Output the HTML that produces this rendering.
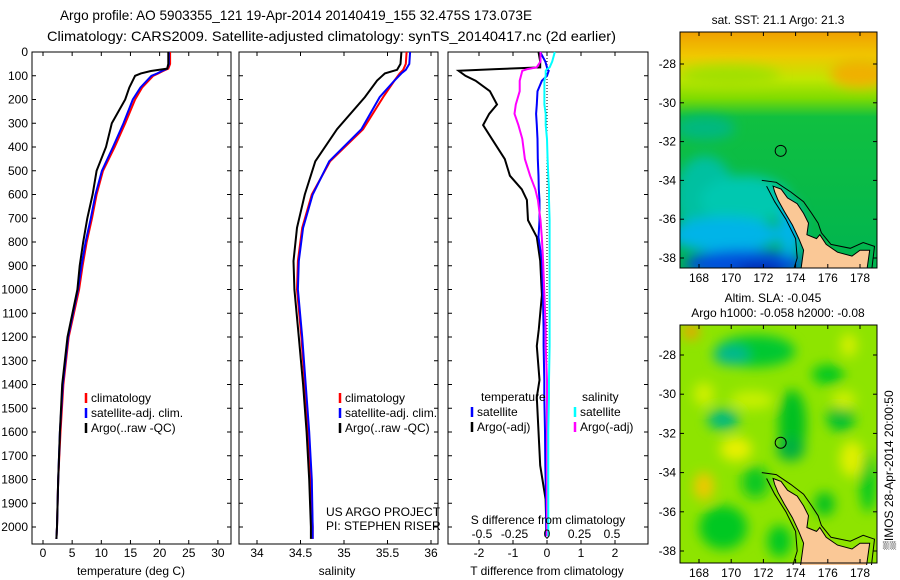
<!DOCTYPE html>
<html><head><meta charset="utf-8">
<style>
html,body{margin:0;padding:0;background:#fff;}
svg{display:block;font-family:"Liberation Sans",sans-serif;}
</style></head>
<body>
<svg id="fig" width="900" height="580" viewBox="0 0 900 580" xmlns="http://www.w3.org/2000/svg">
<defs>
<filter id="blur6" x="-20%" y="-20%" width="140%" height="140%"><feGaussianBlur stdDeviation="6"/></filter>
<filter id="blur3" x="-20%" y="-20%" width="140%" height="140%"><feGaussianBlur stdDeviation="3"/></filter>
<clipPath id="clipTop"><rect x="680" y="32" width="197" height="236"/></clipPath>
<clipPath id="clipBot"><rect x="680" y="325" width="197" height="240"/></clipPath>
<linearGradient id="sstGrad" x1="0" y1="0" x2="0" y2="1">
<stop offset="0" stop-color="#f0a000"/><stop offset="0.1" stop-color="#f0c800"/>
<stop offset="0.2" stop-color="#c0e600"/><stop offset="0.28" stop-color="#80dc00"/>
<stop offset="0.36" stop-color="#10c040"/><stop offset="1" stop-color="#00b450"/>
</linearGradient>
</defs>
<text x="60" y="20" font-size="14" textLength="472" lengthAdjust="spacingAndGlyphs">Argo profile: AO 5903355_121 19-Apr-2014 20140419_155 32.475S 173.073E</text>
<text x="47" y="41" font-size="14" textLength="569" lengthAdjust="spacingAndGlyphs">Climatology: CARS2009. Satellite-adjusted climatology: synTS_20140417.nc (2d earlier)</text>
<g id="panels"></g>
<g id="maps"></g>
</svg>
<script>
// ---- Temperature profile data ----
const tDepth = [0,50,70,80,90,100,150,200,300,400,500,600,700,800,900,1000,1200,1400,1600,1800,2000,2050];
const tClim = [21.8,21.8,21.5,20.6,19.8,18.9,17.0,15.8,14.1,12.3,10.3,9.2,8.4,7.5,6.8,6.2,4.4,3.5,3.0,2.6,2.4,2.3];
const tSat  = [21.6,21.6,21.3,20.4,19.6,18.6,16.7,15.4,13.8,12.0,10.1,9.0,8.2,7.3,6.6,6.0,4.3,3.4,2.9,2.6,2.4,2.3];
const tArgo = [21.5,21.5,21.3,18.5,16.8,15.8,14.8,14.1,11.8,10.8,9.2,8.5,7.6,6.9,6.3,5.9,4.2,3.3,2.9,2.6,2.4,2.3];
// ---- Salinity profile data ----
const sDepth = [0,50,75,90,120,190,325,460,600,740,880,1000,1200,1400,1600,1800,2000,2050];
const sClim = [35.72,35.71,35.68,35.64,35.58,35.45,35.22,34.84,34.63,34.52,34.47,34.46,34.51,34.55,34.59,34.62,34.64,34.64];
const sSat  = [35.76,35.75,35.71,35.66,35.58,35.41,35.20,34.83,34.64,34.53,34.48,34.47,34.52,34.56,34.60,34.63,34.64,34.64];
const sArgo = [35.66,35.65,35.61,35.47,35.38,35.24,34.92,34.67,34.55,34.46,34.42,34.43,34.48,34.53,34.57,34.60,34.62,34.62];
// ---- Difference data ----
const dDepth = [0,40,65,72,79,100,121,165,221,260,308,366,451,521,578,623,708,779,879,1023,1167,1238,1381,1454,1597,1741,1883,1997,2040];
const dTArgo = [-0.25,-0.2,-0.2,-1.5,-2.6,-2.4,-2.1,-1.68,-1.47,-1.7,-1.88,-1.62,-1.24,-1.09,-0.74,-0.59,-0.56,-0.3,-0.2,-0.15,-0.24,-0.3,-0.22,-0.3,-0.25,-0.2,-0.04,-0.02,-0.02];
const dTSat  = [-0.2,-0.05,0.0,0.0,0.05,0.0,-0.15,-0.28,-0.3,-0.32,-0.3,-0.28,-0.27,-0.25,-0.24,-0.22,-0.22,-0.25,-0.15,-0.12,-0.1,-0.1,-0.08,-0.08,-0.06,-0.05,-0.03,-0.02,-0.02];
const dSArgo = [-0.05,-0.05,-0.08,-0.15,-0.19,-0.2,-0.21,-0.21,-0.24,-0.25,-0.22,-0.19,-0.17,-0.13,-0.09,-0.07,-0.05,-0.04,-0.03,-0.02,-0.01,-0.01,0,0,0,0,0,0,0];
const dSSat  = [0.06,0.04,0.02,0,-0.01,-0.01,-0.02,-0.02,-0.02,-0.01,-0.01,0,0.005,0.01,0.015,0.015,0.02,0.02,0.02,0.02,0.02,0.02,0.015,0.015,0.01,0.01,0.01,0.01,0.01];
// ---- Tick labels ----
const depthTicks = [0,100,200,300,400,500,600,700,800,900,1000,1100,1200,1300,1400,1500,1600,1700,1800,1900,2000];
const tempTicks = [0,5,10,15,20,25,30];
const salTicks = [34,34.5,35,35.5,36];
const dTTicks = [-2,-1,0,1,2];
const dSTicks = [-0.5,-0.25,0,0.25,0.5];
const dSTickLabels = ["-0.5","-0.25","0","0.25","0.5"];
const latTicks = [-28,-30,-32,-34,-36,-38];
const lonTicks = [168,170,172,174,176,178];

const NS = "http://www.w3.org/2000/svg";
const panels = document.getElementById('panels');
const maps = document.getElementById('maps');
function mk(tag, attrs, parent, text){
  const e = document.createElementNS(NS, tag);
  for (const k in attrs) e.setAttribute(k, attrs[k]);
  if (text !== undefined) e.textContent = text;
  (parent||panels).appendChild(e);
  return e;
}
const yTop = 52, yBot = 544;
const yD = d => 52 + d*0.2375;
const xT = v => 43 + v*5.83;
const xS = v => 257 + (v-34)*87;
const xDT = v => 547 + v*34;
const xDS = v => 547 + v*130;

function frame(x0,x1,name){
  const r = mk('rect',{x:x0,y:yTop,width:x1-x0,height:yBot-yTop,fill:'none',stroke:'#000','stroke-width':1});
  
  
  depthTicks.forEach(d=>{
    const y = yD(d);
    mk('line',{x1:x0,x2:x0+4,y1:y,y2:y,stroke:'#000'});
    mk('line',{x1:x1-4,x2:x1,y1:y,y2:y,stroke:'#000'});
  });
}
function xTicks(ticks, fx, labels, name, ly){
  ticks.forEach((v,i)=>{
    const x = fx(v);
    mk('line',{x1:x,x2:x,y1:yBot,y2:yBot-4,stroke:'#000'});
    mk('line',{x1:x,x2:x,y1:yTop,y2:yTop+4,stroke:'#000'});
    const t = mk('text',{x:x,y:ly,'font-size':12,'text-anchor':'middle'},panels,labels?labels[i]:String(v));
    
    
  });
}
function line(depths, vals, fx, color, name, w){
  const pts = depths.map((d,i)=>fx(vals[i]).toFixed(1)+','+yD(d).toFixed(1)).join(' ');
  const p = mk('polyline',{points:pts,fill:'none',stroke:color,'stroke-width':w||2,'stroke-linejoin':'miter'});
  
  
}
function legendEntry(x,y,color,label,name){
  mk('line',{x1:x,x2:x,y1:y-9,y2:y+1,stroke:color,'stroke-width':2.5});
  const t = mk('text',{x:x+5,y:y,'font-size':12},panels,label);
  
  
}

// Panel 1: temperature
frame(32,231,'temperature-panel');
depthTicks.forEach(d=>{
  const t = mk('text',{x:28,y:yD(d)+4,'font-size':12,'text-anchor':'end'},panels,String(d));
  
  
});
xTicks(tempTicks, xT, null, 'temperature-tick-label', 557);
line(tDepth,tClim,xT,'#ff0000','temp-climatology-line');
line(tDepth,tSat,xT,'#0000ff','temp-satellite-line');
line(tDepth,tArgo,xT,'#000000','temp-argo-line');
let at = mk('text',{x:131,y:575,'font-size':12,'text-anchor':'middle'},panels,'temperature (deg C)');


legendEntry(86,402,'#ff0000','climatology','legend-climatology');
legendEntry(86,417,'#0000ff','satellite-adj. clim.','legend-satellite-adj');
legendEntry(86,432,'#000000','Argo(..raw -QC)','legend-argo');

// Panel 2: salinity
frame(239,438,'salinity-panel');
xTicks(salTicks, xS, null, 'salinity-tick-label', 557);
line(sDepth,sClim,xS,'#ff0000','sal-climatology-line');
line(sDepth,sSat,xS,'#0000ff','sal-satellite-line');
line(sDepth,sArgo,xS,'#000000','sal-argo-line');
at = mk('text',{x:337,y:575,'font-size':12,'text-anchor':'middle'},panels,'salinity');


legendEntry(340,402,'#ff0000','climatology','legend-climatology-2');
legendEntry(340,417,'#0000ff','satellite-adj. clim.','legend-satellite-adj-2');
legendEntry(340,432,'#000000','Argo(..raw -QC)','legend-argo-2');
at = mk('text',{x:326,y:516,'font-size':12},panels,'US ARGO PROJECT');


at = mk('text',{x:326,y:530,'font-size':12},panels,'PI: STEPHEN RISER');



// Panel 3: differences
frame(448,648,'difference-panel');
xTicks(dTTicks, xDT, null, 'tdiff-tick-label', 557);
mk('line',{x1:547,x2:547,y1:yTop,y2:yBot,stroke:'#000','stroke-dasharray':'1,2'});
line(dDepth,dTArgo,xDT,'#000000','tdiff-argo-line');
line(dDepth,dTSat,xDT,'#0000ff','tdiff-satellite-line');
line(dDepth,dSArgo,xDS,'#ff00ff','sdiff-argo-line');
line(dDepth,dSSat,xDS,'#00ffff','sdiff-satellite-line');
dSTicks.forEach((v,i)=>{
  const t = mk('text',{x:xDS(v),y:538,'font-size':12,'text-anchor':'middle'},panels,dSTickLabels[i]);
  
  
});
at = mk('text',{x:548,y:524,'font-size':12,'text-anchor':'middle'},panels,'S difference from climatology');


at = mk('text',{x:547,y:575,'font-size':12,'text-anchor':'middle'},panels,'T difference from climatology');


at = mk('text',{x:481,y:401,'font-size':12},panels,'temperature');


at = mk('text',{x:582,y:401,'font-size':12},panels,'salinity');


legendEntry(472,416,'#0000ff','satellite','legend-t-satellite');
legendEntry(472,431,'#000000','Argo(-adj)','legend-t-argo');
legendEntry(575,416,'#00ffff','satellite','legend-s-satellite');
legendEntry(575,431,'#ff00ff','Argo(-adj)','legend-s-argo');

// ---- Maps ----
function drawMap(y0, y1, lat28y, latStep, clip, kind, name){
  const lonX = lon => 699 + (lon-168)*16.1;
  const latY = lat => lat28y + (-lat-28)*latStep;
  const g = mk('g',{'clip-path':'url(#'+clip+')'},maps);
  
  
  if(kind==='sst'){
    mk('rect',{x:680,y:y0,width:197,height:y1-y0,fill:'url(#sstGrad)'},g);
    const b = mk('g',{filter:'url(#blur6)'},g);
    mk('ellipse',{cx:705,cy:latY(-34.8),rx:30,ry:40,fill:'#00c0a0'},b);
    mk('ellipse',{cx:745,cy:latY(-35.0),rx:45,ry:24,fill:'#00c8b0'},b);
    mk('ellipse',{cx:725,cy:latY(-36.8),rx:55,ry:18,fill:'#00b4e8'},b);
    mk('ellipse',{cx:745,cy:latY(-38.3),rx:60,ry:14,fill:'#0050dc'},b);
    mk('ellipse',{cx:760,cy:latY(-38.7),rx:25,ry:8,fill:'#0020a8'},b);
    mk('ellipse',{cx:790,cy:latY(-36.5),rx:12,ry:28,fill:'#00b4e8'},b);
    mk('ellipse',{cx:705,cy:latY(-31.3),rx:30,ry:12,fill:'#00b880'},b);
    mk('ellipse',{cx:860,cy:latY(-28.5),rx:30,ry:14,fill:'#f0b000'},b);
    mk('ellipse',{cx:730,cy:latY(-28.6),rx:50,ry:10,fill:'#a0e000'},b);
  } else {
    mk('rect',{x:680,y:y0,width:197,height:y1-y0,fill:'#8ee400'},g);
    const b = mk('g',{filter:'url(#blur6)'},g);
    const blobs = [
      [171.5,-27.8,40,16,'#00c830'],[170,-28,18,10,'#00b890'],[173.8,-31.5,14,34,'#00c020'],[173.7,-32.8,14,12,'#00b040'],
      [169.5,-31.3,16,10,'#00b880'],[176.8,-31.2,14,14,'#00c030'],[175.8,-35.6,10,12,'#00c020'],[169.5,-36.8,24,22,'#00c820'],
      [176.0,-29.0,16,10,'#00c820'],[178.5,-34.5,8,30,'#00c820'],[171.5,-34.5,14,16,'#10c820'],[173.0,-37.5,12,16,'#00c820'],
      [168.3,-30,10,12,'#d0f000'],[171.3,-30.3,22,9,'#c8f000'],[170.3,-32.8,16,12,'#e8f000'],[177.5,-33.3,12,18,'#e0f000'],
      [168.3,-34.7,10,14,'#f0c800'],[167.5,-26.8,8,8,'#f0a000'],[177.3,-27.5,8,12,'#d8f000'],[177,-30.3,12,9,'#d0f000']];
    blobs.forEach(o=>mk('ellipse',{cx:lonX(o[0]),cy:latY(o[1]),rx:o[2],ry:o[3],fill:o[4]},b));
  }
  const coastPts = [[172.6,-34.3],[173.1,-34.45],[173.5,-34.9],[174.1,-35.2],[174.5,-35.7],[174.8,-36.2],[174.7,-36.8],[175.3,-37.0],[175.5,-36.8],[175.9,-37.3],[176.6,-37.7],[177.5,-37.9],[178.0,-37.6],[178.6,-37.6],[178.4,-38.8],[174.3,-38.8],[174.5,-37.6],[174.2,-37.0],[173.8,-36.3],[173.3,-35.6],[172.9,-35.0],[172.7,-34.6]];
  const shelfPts = [[171.9,-34.0],[172.8,-34.1],[173.7,-34.6],[174.5,-35.1],[175.0,-35.7],[175.4,-36.2],[175.6,-36.7],[176.2,-37.3],[177.4,-37.5],[178.2,-37.2],[178.9,-37.4],[178.7,-38.8]];
  const shelfW = [[172.2,-34.3],[172.7,-35.1],[173.4,-36.0],[174.0,-37.0],[174.1,-38.0],[173.8,-38.8]];
  const pp = a => a.map(p=>lonX(p[0]).toFixed(1)+','+latY(p[1]).toFixed(1)).join(' ');
  const land = mk('polygon',{points:pp(coastPts),fill:'#fac896',stroke:'#000','stroke-width':1},g);
  
  
  mk('polyline',{points:pp(shelfPts),fill:'none',stroke:'#000','stroke-width':1},g);
  mk('polyline',{points:pp(shelfW),fill:'none',stroke:'#000','stroke-width':1},g);
  const c = mk('circle',{cx:lonX(173.073),cy:latY(-32.475),r:5.5,fill:'none',stroke:'#000','stroke-width':1},maps);
  
  
  const f = mk('rect',{x:680,y:y0,width:197,height:y1-y0,fill:'none',stroke:'#000'},maps);
  
  
  latTicks.forEach(l=>{
    const y = latY(l);
    mk('line',{x1:680,x2:684,y1:y,y2:y,stroke:'#000'},maps);
    mk('line',{x1:873,x2:877,y1:y,y2:y,stroke:'#000'},maps);
    const t = mk('text',{x:676,y:y+4,'font-size':12,'text-anchor':'end'},maps,String(l));
    
    
  });
  lonTicks.forEach(l=>{
    const x = lonX(l);
    mk('line',{x1:x,x2:x,y1:y1,y2:y1-4,stroke:'#000'},maps);
    mk('line',{x1:x,x2:x,y1:y0,y2:y0+4,stroke:'#000'},maps);
    const t = mk('text',{x:x,y:y1+14,'font-size':12,'text-anchor':'middle'},maps,String(l));
    
    
  });
}
drawMap(32,268,64,19.4,'clipTop','sst','sst-map');
drawMap(325,563,355,19.6,'clipBot','sla','sla-map');
let mt = mk('text',{x:778,y:24,'font-size':12,'text-anchor':'middle'},maps,'sat. SST: 21.1 Argo: 21.3');


mt = mk('text',{x:773,y:302,'font-size':12,'text-anchor':'middle'},maps,'Altim. SLA: -0.045');


mt = mk('text',{x:778,y:317,'font-size':12,'text-anchor':'middle'},maps,'Argo h1000: -0.058 h2000: -0.08');


mt = mk('text',{x:0,y:0,'font-size':12,'text-anchor':'middle',transform:'translate(893,470) rotate(-90)'},maps,'\u2592IMOS 28-Apr-2014 20:00:50');


</script>
</body></html>
